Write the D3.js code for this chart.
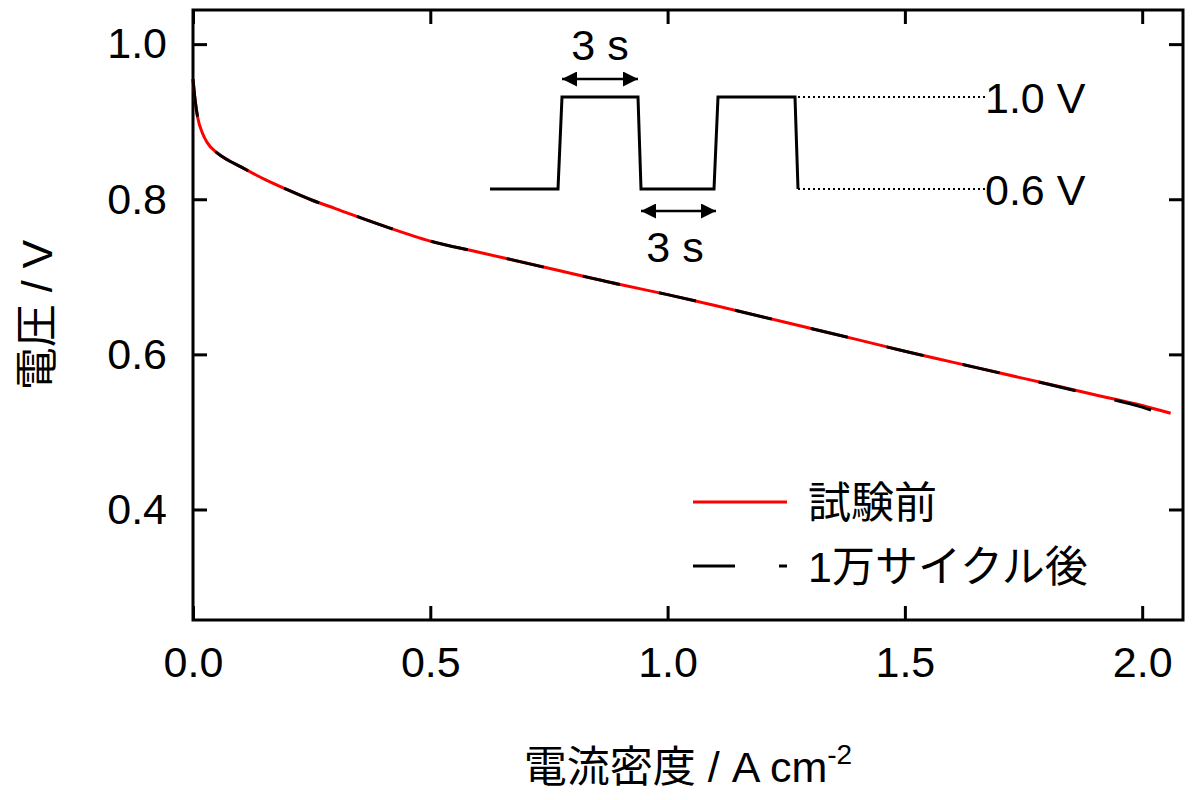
<!DOCTYPE html>
<html><head><meta charset="utf-8">
<script src="https://cdn.jsdelivr.net/npm/d3@7"></script>
<style>body{margin:0;background:#fff}text{font-family:Arial,"Liberation Sans","Noto Sans CJK JP",sans-serif}</style>
</head><body><svg id="c" width="1200" height="800"></svg>
<script>
const current = [0, 0.005, 0.01, 0.02, 0.03, 0.05, 0.075, 0.1, 0.15, 0.2, 0.25, 0.3, 0.4, 0.5, 0.6, 0.75, 0.9, 1.0, 1.1, 1.25, 1.4, 1.5, 1.6, 1.75, 1.9, 2.0, 2.06];
const before = [0.955, 0.925, 0.905, 0.885, 0.873, 0.86, 0.85, 0.842, 0.826, 0.812, 0.799, 0.788, 0.766, 0.746, 0.732, 0.711, 0.690, 0.677, 0.663, 0.641, 0.619, 0.604, 0.590, 0.569, 0.548, 0.534, 0.524];
const after  = [0.955, 0.925, 0.905, 0.885, 0.873, 0.86, 0.85, 0.842, 0.826, 0.812, 0.799, 0.788, 0.766, 0.746, 0.732, 0.711, 0.690, 0.677, 0.663, 0.641, 0.619, 0.604, 0.590, 0.569, 0.547, 0.532, 0.519];
const xTicks = [0, 0.5, 1.0, 1.5, 2.0];
const yTicks = [0.4, 0.6, 0.8, 1.0];
const legendLabels = ["試験前", "1万サイクル後"];

const svg = d3.select("#c");
const L=193,R=1183,T=10,B=620;
const x = d3.scaleLinear().domain([0,2.086]).range([L,R]);
const y = d3.scaleLinear().domain([0.2575,1.044]).range([B,T]);
const fs = 43;
svg.append("g").attr("transform",`translate(0,${B})`).call(d3.axisBottom(x).tickValues(xTicks).tickFormat(d3.format(".1f")).tickSizeInner(-14).tickSizeOuter(0).tickPadding(26));
svg.append("g").attr("transform",`translate(0,${T})`).call(d3.axisTop(x).tickValues(xTicks).tickFormat("").tickSizeInner(-14).tickSizeOuter(0));
svg.append("g").attr("transform",`translate(${L},0)`).call(d3.axisLeft(y).tickValues(yTicks).tickFormat(d3.format(".1f")).tickSizeInner(-14).tickSizeOuter(0).tickPadding(26));
svg.append("g").attr("transform",`translate(${R},0)`).call(d3.axisRight(y).tickValues(yTicks).tickFormat("").tickSizeInner(-14).tickSizeOuter(0));
svg.selectAll(".domain").remove();
svg.selectAll(".tick line").attr("stroke","#000").attr("stroke-width",3);
svg.selectAll(".tick text").attr("font-size",fs).attr("fill","#000");
svg.append("rect").attr("x",L).attr("y",T).attr("width",R-L).attr("height",B-T).attr("fill","none").attr("stroke","#000").attr("stroke-width",3);

const line = (ys)=>d3.line().x((d,i)=>x(current[i])).y((d,i)=>y(ys[i])).curve(d3.curveMonotoneX)(ys);
svg.append("path").attr("d",line(before)).attr("fill","none").attr("stroke","#f00").attr("stroke-width",3);
svg.append("path").attr("d",line(after)).attr("fill","none").attr("stroke","#000").attr("stroke-width",3).attr("stroke-dasharray","38,40");

// legend
svg.append("line").attr("x1",693).attr("x2",787).attr("y1",502).attr("y2",502).attr("stroke","#f00").attr("stroke-width",3);
svg.append("line").attr("x1",693).attr("x2",787).attr("y1",566).attr("y2",566).attr("stroke","#000").attr("stroke-width",3).attr("stroke-dasharray","42,44,8,100");
svg.append("text").attr("x",808).attr("y",518).attr("font-size",fs).text(legendLabels[0]);
svg.append("text").attr("x",808).attr("y",582).attr("font-size",fs).text(legendLabels[1]);

// inset waveform
const hi=97, lo=189;
const wave=[[490,lo],[558,lo],[562,hi],[638,hi],[641,lo],[714,lo],[718,hi],[795,hi],[798,lo]];
svg.append("path").attr("d",d3.line()(wave)).attr("fill","none").attr("stroke","#000").attr("stroke-width",3);
svg.append("line").attr("x1",798).attr("x2",985).attr("y1",hi).attr("y2",hi).attr("stroke","#000").attr("stroke-width",2).attr("stroke-dasharray","2,3");
svg.append("line").attr("x1",798).attr("x2",985).attr("y1",lo).attr("y2",lo).attr("stroke","#000").attr("stroke-width",2).attr("stroke-dasharray","2,3");
svg.append("text").attr("x",985).attr("y",113).attr("font-size",fs).text("1.0 V");
svg.append("text").attr("x",985).attr("y",205).attr("font-size",fs).text("0.6 V");
const defs=svg.append("defs");
defs.append("marker").attr("id","ah").attr("viewBox","0 0 10 10").attr("refX",10).attr("refY",5).attr("markerWidth",6).attr("markerHeight",6).attr("orient","auto-start-reverse").append("path").attr("d","M0,0L10,5L0,10z").attr("fill","#000");
svg.append("line").attr("x1",562).attr("x2",638).attr("y1",79).attr("y2",79).attr("stroke","#000").attr("stroke-width",2.5).attr("marker-start","url(#ah)").attr("marker-end","url(#ah)");
svg.append("line").attr("x1",641).attr("x2",716).attr("y1",211).attr("y2",211).attr("stroke","#000").attr("stroke-width",2.5).attr("marker-start","url(#ah)").attr("marker-end","url(#ah)");
svg.append("text").attr("x",600).attr("y",60).attr("text-anchor","middle").attr("font-size",fs).text("3 s");
svg.append("text").attr("x",675).attr("y",262).attr("text-anchor","middle").attr("font-size",fs).text("3 s");

// axis titles
const xt=svg.append("text").attr("x",688).attr("y",782).attr("text-anchor","middle").attr("font-size",fs);
xt.append("tspan").text("電流密度 / A cm");
xt.append("tspan").attr("dy",-18).attr("font-size",28).text("-2");
svg.append("text").attr("transform","translate(52,315) rotate(-90)").attr("text-anchor","middle").attr("font-size",fs).text("電圧 / V");
</script></body></html>
